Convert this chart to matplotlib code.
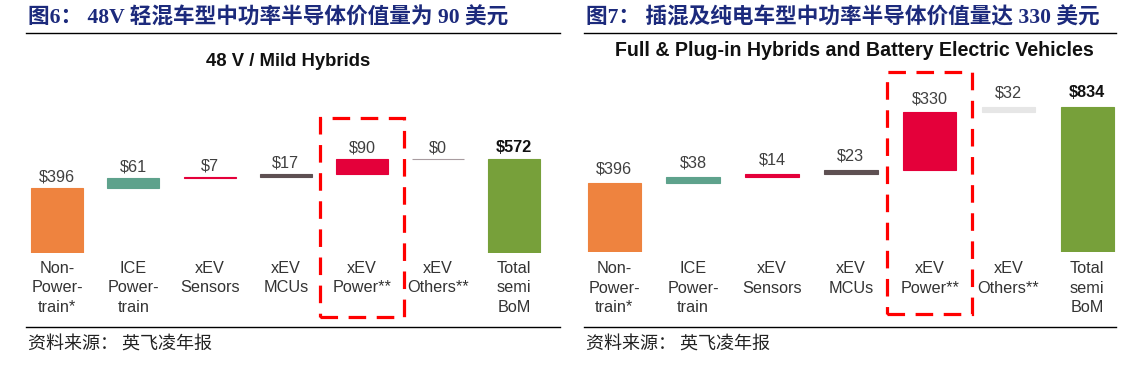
import numpy as np
import matplotlib.pyplot as plt
from matplotlib.patches import Rectangle
from matplotlib.lines import Line2D

# data
categories = ['Non-\nPower-\ntrain*', 'ICE\nPower-\ntrain', 'xEV\nSensors', 'xEV\nMCUs',
              'xEV\nPower**', 'xEV\nOthers**', 'Total\nsemi\nBoM']
mild_values = [396, 61, 7, 17, 90, 0]
mild_total = 572
bev_values = [396, 38, 14, 23, 330, 32]
bev_total = 834

step_colors = ['#EE833F', '#5EA28C', '#E4003A', '#5E5052', '#E4003A']
mild_others_color = '#A89CA0'
bev_others_color = '#E6E6E6'
total_color = '#77A03A'

title_left = '图6： 48V 轻混车型中功率半导体价值量为 90 美元'
title_right = '图7： 插混及纯电车型中功率半导体价值量达 330 美元'
source = '资料来源： 英飞凌年报'

W, H = 1143, 390
fig = plt.figure(figsize=(W / 100, H / 100), dpi=100)

def fx(px):
    return px / W

def fy(py):
    return 1 - py / H

sans = ['Liberation Sans', 'DejaVu Sans']
cjk_title = ['Liberation Serif', 'Noto Sans CJK SC']
cjk_text = ['Noto Sans CJK SC', 'DejaVu Sans']


def waterfall(ax, values, total, others_color, label_off, bar_w, lab_off):
    cum = np.concatenate([[0], np.cumsum(values)[:-1]])
    colors = step_colors + [others_color]
    for i, (v, b) in enumerate(zip(values, cum)):
        ax.bar(i, v, bottom=b, width=bar_w, color=colors[i], edgecolor=colors[i], linewidth=0.8)
        ax.annotate(f'${v}', (i, b + v), xytext=(0, label_off), textcoords='offset points',
                    ha='center', va='center', fontsize=11.7, color='#404040', family=sans)
    n = len(values)
    ax.bar(n, total, width=bar_w, color=total_color, edgecolor=total_color, linewidth=0.8)
    ax.annotate(f'${total}', (n, total), xytext=(0, label_off), textcoords='offset points',
                ha='center', va='center', fontsize=11.7, color='#111111', fontweight='bold', family=sans)
    for i, lab in enumerate(categories):
        ax.annotate(lab, (i, 0), xytext=(0, lab_off), textcoords='offset points',
                    ha='center', va='top', fontsize=11.7, color='#333333', family=sans,
                    linespacing=1.38)
    ax.axis('off')


# left panel: bar centres 57.3 px + 76.17 px per step, baseline at 253 px
axl = fig.add_axes([fx(26), fy(253), fx(560 - 26), (253 - 110) / H])
axl.set_xlim((26 - 57.3) / 76.17, (560 - 57.3) / 76.17)
axl.set_ylim(0, (253 - 110) / 0.1643)
waterfall(axl, mild_values, mild_total, mild_others_color, 8, 0.683, -5.5)
axl.add_patch(Rectangle((3.449, -390), 1.103, 1212, fill=False, edgecolor='#FF0000',
                        linewidth=2.3, linestyle=(0, (5.5, 3.3)), clip_on=False))

# right panel: bar centres 614.3 px + 78.83 px per step, baseline at 252.3 px
axr = fig.add_axes([fx(584), fy(252.3), fx(1116 - 584), (252.3 - 60) / H])
axr.set_xlim((584 - 614.3) / 78.83, (1116 - 614.3) / 78.83)
axr.set_ylim(0, (252.3 - 60) / 0.1746)
waterfall(axr, bev_values, bev_total, bev_others_color, 10, 0.679, -6.5)
axr.add_patch(Rectangle((3.455, -355), 1.079, 1385, fill=False, edgecolor='#FF0000',
                        linewidth=2.3, linestyle=(0, (5.5, 3.3)), clip_on=False))

# titles and rules
fig.text(fx(28.5), fy(17.5), title_left, ha='left', va='center', fontsize=15.6,
         fontweight='bold', color='#1C2A7C', family=cjk_title)
fig.text(fx(586.5), fy(17.5), title_right, ha='left', va='center', fontsize=15.6,
         fontweight='bold', color='#1C2A7C', family=cjk_title)
fig.text(fx(288), fy(62), '48 V / Mild Hybrids', ha='center', va='center', fontsize=13.3,
         fontweight='bold', color='#111111', family=sans)
fig.text(fx(854.5), fy(50), 'Full & Plug-in Hybrids and Battery Electric Vehicles', ha='center',
         va='center', fontsize=14.1, fontweight='bold', color='#111111', family=sans)

for x0, x1 in [(26, 560), (584, 1116)]:
    for yy in (33, 327):
        fig.add_artist(Line2D([fx(x0), fx(x1)], [fy(yy), fy(yy)], color='black', linewidth=1))

fig.text(fx(28.5), fy(344), source, ha='left', va='center', fontsize=13, color='#222222', family=cjk_text)
fig.text(fx(586), fy(344), source, ha='left', va='center', fontsize=13, color='#222222', family=cjk_text)

fig.savefig('out.png', dpi=100)
